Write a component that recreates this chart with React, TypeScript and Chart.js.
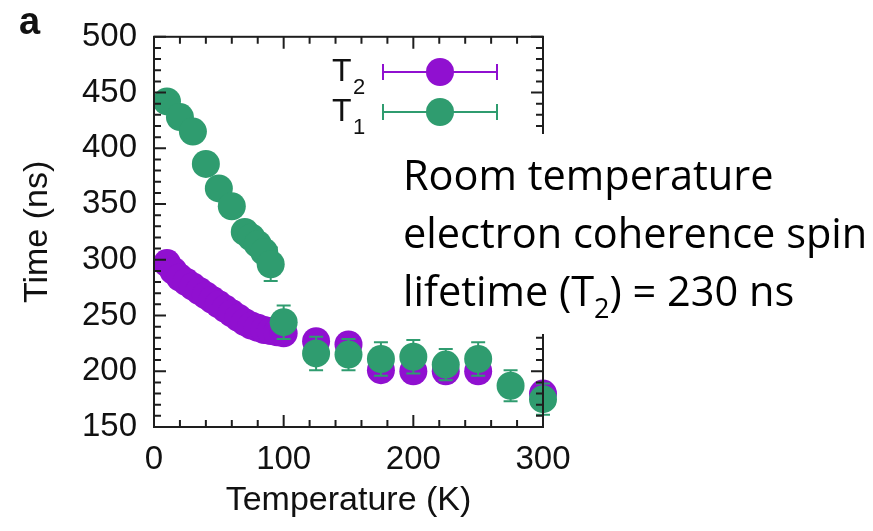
import React, { useEffect, useRef } from "react";
import { Chart, registerables } from "chart.js";

Chart.register(...registerables);

// ---- data ----
const T2_TEMPS = [10, 15, 20, 25, 30, 35, 40, 45, 50, 55, 60, 65, 70, 75, 80, 85, 90, 95, 100, 125, 150, 175, 200, 225, 250, 300];
const T2_VALUES = [297, 290, 284, 280, 276, 272, 268, 264, 260, 256, 252, 248, 244, 241, 239, 237, 236, 235, 234, 227, 224, 201, 200, 200, 200, 180];
const T2_ERRORS = [5, 5, 5, 5, 5, 5, 5, 5, 5, 5, 5, 5, 5, 5, 5, 5, 5, 5, 5, 10, 10, 10, 10, 10, 10, 10];

const T1_TEMPS = [10, 20, 30, 40, 50, 60, 70, 75, 80, 85, 90, 100, 125, 150, 175, 200, 225, 250, 275, 300];
const T1_VALUES = [442, 428, 415, 386, 364, 348, 325, 320, 314, 307, 296, 244, 216, 215, 211, 213, 206, 211, 187, 175];
const T1_ERRORS = [5, 5, 5, 5, 5, 5, 5, 5, 5, 5, 15, 15, 15, 14, 15, 15, 14, 15, 14, 14];

const X_TICKS = [0, 100, 200, 300];
const Y_TICKS = [150, 200, 250, 300, 350, 400, 450, 500];

const PURPLE = "#9010d0";
const GREEN = "#2f9c6f";
const AXIS_FONT = "'Liberation Sans', Arial, Helvetica, sans-serif";
const NOTE_FONT = "'Open Sans', 'Noto Sans', sans-serif";

const ERRORS = [T1_ERRORS, T2_ERRORS];

const customPlugin = {
  id: "custom",
  beforeDatasetDraw(chart: any, args: any) {
    const ds = chart.data.datasets[args.index];
    const errs = ERRORS[args.index];
    const xs = chart.scales.x;
    const ys = chart.scales.y;
    const ctx = chart.ctx;
    ctx.save();
    ctx.strokeStyle = ds.backgroundColor;
    ctx.lineWidth = 2;
    ds.data.forEach((p: any, i: number) => {
      const px = xs.getPixelForValue(p.x);
      const y1 = ys.getPixelForValue(p.y + errs[i]);
      const y2 = ys.getPixelForValue(p.y - errs[i]);
      ctx.beginPath();
      ctx.moveTo(px, y1);
      ctx.lineTo(px, y2);
      ctx.moveTo(px - 7, y1);
      ctx.lineTo(px + 7, y1);
      ctx.moveTo(px - 7, y2);
      ctx.lineTo(px + 7, y2);
      ctx.stroke();
    });
    ctx.restore();
  },
  afterDatasetsDraw(chart: any) {
    const { ctx, chartArea } = chart;
    const xs = chart.scales.x;
    const ys = chart.scales.y;
    const { left, right, top, bottom } = chartArea;
    ctx.save();
    ctx.strokeStyle = "#1e1e1e";
    ctx.lineWidth = 2;
    ctx.beginPath();
    for (let v = 0; v <= 300; v += 20) {
      const px = xs.getPixelForValue(v);
      const len = v % 100 === 0 ? 12 : 7;
      ctx.moveTo(px, bottom);
      ctx.lineTo(px, bottom - len);
      ctx.moveTo(px, top);
      ctx.lineTo(px, top + len);
    }
    for (let v = 150; v <= 500; v += 10) {
      const py = ys.getPixelForValue(v);
      const len = v % 50 === 0 ? 12 : 7;
      ctx.moveTo(left, py);
      ctx.lineTo(left + len, py);
      ctx.moveTo(right, py);
      ctx.lineTo(right - len, py);
    }
    ctx.stroke();
    ctx.strokeRect(left, top, right - left, bottom - top);
    ctx.restore();
  },
  afterDraw(chart: any) {
    const ctx = chart.ctx;
    ctx.save();
    // legend
    const entries = [
      { label: "T", sub: "2", color: PURPLE, y: 72 },
      { label: "T", sub: "1", color: GREEN, y: 112 },
    ];
    entries.forEach((e) => {
      ctx.fillStyle = "#111";
      ctx.textBaseline = "alphabetic";
      ctx.textAlign = "left";
      ctx.font = `32px ${AXIS_FONT}`;
      ctx.fillText(e.label, 332, e.y + 9);
      ctx.font = `22px ${AXIS_FONT}`;
      ctx.fillText(e.sub, 353, e.y + 22);
      ctx.strokeStyle = e.color;
      ctx.lineWidth = 2;
      ctx.beginPath();
      ctx.moveTo(383, e.y);
      ctx.lineTo(497, e.y);
      ctx.moveTo(383, e.y - 8);
      ctx.lineTo(383, e.y + 8);
      ctx.moveTo(497, e.y - 8);
      ctx.lineTo(497, e.y + 8);
      ctx.stroke();
      ctx.fillStyle = e.color;
      ctx.beginPath();
      ctx.arc(440, e.y, 14, 0, Math.PI * 2);
      ctx.fill();
    });
    // panel label
    ctx.fillStyle = "#111";
    ctx.font = `bold 38px ${AXIS_FONT}`;
    ctx.fillText("a", 19, 34);
    // annotation box
    ctx.fillStyle = "#ffffff";
    ctx.fillRect(392, 134, 481, 200);
    ctx.fillStyle = "#000";
    ctx.font = `41.5px ${NOTE_FONT}`;
    ctx.fillText("Room temperature", 403, 190);
    ctx.fillText("electron coherence spin", 403, 248);
    const part1 = "lifetime (T";
    ctx.fillText(part1, 403, 306);
    let x = 403 + ctx.measureText(part1).width;
    ctx.font = `27px ${NOTE_FONT}`;
    ctx.fillText("2", x, 318);
    x += ctx.measureText("2").width;
    ctx.font = `41.5px ${NOTE_FONT}`;
    ctx.fillText(") = 230 ns", x, 306);
    ctx.restore();
  },
};

export default function App() {
  const canvasRef = useRef<HTMLCanvasElement | null>(null);

  useEffect(() => {
    const canvas = canvasRef.current;
    if (!canvas) return;
    const chart = new Chart(canvas, {
      type: "scatter",
      data: {
        datasets: [
          {
            label: "T1",
            data: T1_TEMPS.map((t, i) => ({ x: t, y: T1_VALUES[i] })),
            backgroundColor: GREEN,
            borderWidth: 0,
            pointRadius: 14,
            pointHoverRadius: 14,
            order: 0,
            clip: false as any,
          },
          {
            label: "T2",
            data: T2_TEMPS.map((t, i) => ({ x: t, y: T2_VALUES[i] })),
            backgroundColor: PURPLE,
            borderWidth: 0,
            pointRadius: 14,
            pointHoverRadius: 14,
            order: 1,
            clip: false as any,
          },
        ],
      },
      options: {
        responsive: false,
        animation: false,
        events: [],
        layout: { padding: { left: 0, top: 35, right: 330, bottom: 0 } },
        plugins: { legend: { display: false }, tooltip: { enabled: false } },
        scales: {
          x: {
            type: "linear",
            min: 0,
            max: 300,
            afterBuildTicks: (s: any) => {
              s.ticks = X_TICKS.map((v) => ({ value: v }));
            },
            afterFit: (s: any) => {
              s.height = 104;
            },
            grid: { display: false, drawTicks: false },
            border: { display: false },
            ticks: {
              padding: 13,
              color: "#111",
              font: { family: AXIS_FONT, size: 33 },
              maxRotation: 0,
            },
            title: {
              display: true,
              text: "Temperature (K)",
              color: "#111",
              font: { family: AXIS_FONT, size: 34 },
              padding: { top: 0, bottom: 10 },
            },
          },
          y: {
            type: "linear",
            min: 150,
            max: 500,
            afterBuildTicks: (s: any) => {
              s.ticks = Y_TICKS.map((v) => ({ value: v }));
            },
            afterFit: (s: any) => {
              s.width = 154;
            },
            grid: { display: false, drawTicks: false },
            border: { display: false },
            ticks: {
              padding: 17,
              color: "#111",
              font: { family: AXIS_FONT, size: 33 },
            },
            title: {
              display: true,
              text: "Time (ns)",
              color: "#111",
              font: { family: AXIS_FONT, size: 34 },
              padding: { top: 17, bottom: 0 },
            },
          },
        },
      },
      plugins: [customPlugin],
    });
    return () => chart.destroy();
  }, []);

  return (
    <div style={{ position: "fixed", left: 0, top: 0, width: 873, height: 531, background: "#fff" }}>
      <canvas ref={canvasRef} width={873} height={531} style={{ display: "block" }} />
    </div>
  );
}
